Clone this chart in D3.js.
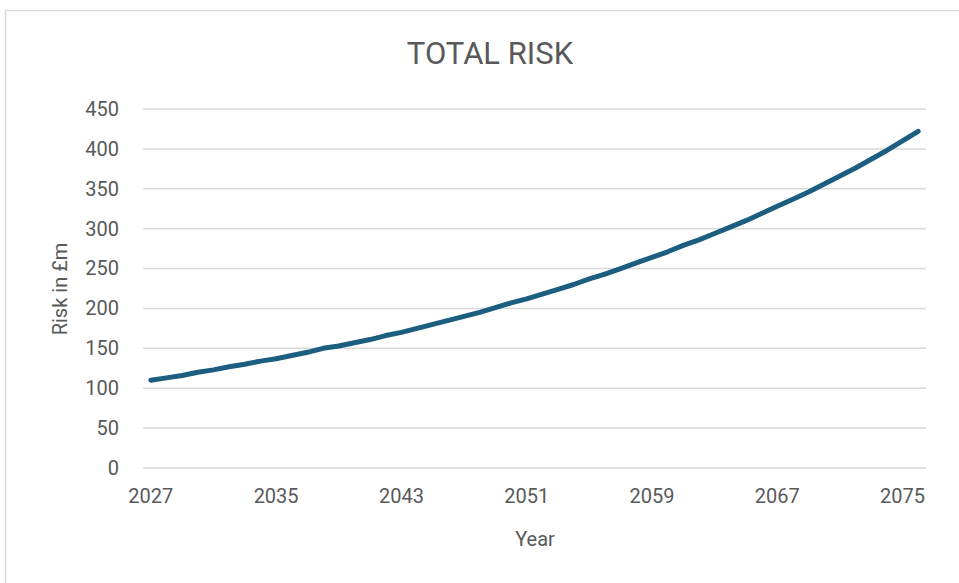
<!DOCTYPE html>
<html>
<head>
<meta charset="utf-8">
<script src="https://cdn.jsdelivr.net/npm/d3@7"></script>
<style>
  html, body { margin: 0; padding: 0; background: #fff; }
  svg { display: block; }
  text { font-family: Roboto, "Liberation Sans", Arial, sans-serif; fill: #595959; }
</style>
</head>
<body>
<svg id="chart" width="959" height="583"></svg>
<script>
// Total risk per year, in £m
const years = d3.range(2027, 2077);
const risk = [
  110, 113, 116, 120, 123, 127, 130, 134, 137, 141,
  145, 150, 153, 157, 161, 166, 170, 175, 180, 185,
  190, 195, 201, 207, 212, 218, 224, 230, 237, 243,
  250, 257, 264, 271, 279, 286, 294, 302, 310, 319,
  328, 337, 346, 356, 366, 376, 387, 398, 410, 422
];
const yTicks = [0, 50, 100, 150, 200, 250, 300, 350, 400, 450];
const xTickYears = [2027, 2035, 2043, 2051, 2059, 2067, 2075];

const svg = d3.select("#chart");
const plot = { left: 143, right: 926, top: 109, bottom: 468 };

// Chart frame
svg.append("rect")
  .attr("x", 5.5).attr("y", 10.5)
  .attr("width", 1000).attr("height", 700)
  .attr("fill", "#fff")
  .attr("stroke", "#d9d9d9")
  .attr("stroke-width", 1.5);

// Category axis: each year sits at the centre of its band
const x = d3.scaleBand()
  .domain(years)
  .range([plot.left, plot.right])
  .paddingInner(0).paddingOuter(0);
const xc = d => x(d) + x.bandwidth() / 2;

const y = d3.scaleLinear()
  .domain([0, 450])
  .range([plot.bottom, plot.top]);

// Horizontal gridlines
svg.append("g")
  .selectAll("line")
  .data(yTicks)
  .join("line")
  .attr("x1", plot.left).attr("x2", plot.right)
  .attr("y1", d => y(d)).attr("y2", d => y(d))
  .attr("stroke", "#d9d9d9")
  .attr("stroke-width", 1.5);

// Y axis labels
const yAxis = d3.axisLeft(y).tickValues(yTicks).tickSize(0).tickPadding(0);
svg.append("g")
  .attr("transform", `translate(119,0)`)
  .call(yAxis)
  .call(g => g.select(".domain").remove())
  .selectAll("text")
  .attr("font-size", 20)
  .attr("font-family", "Roboto, 'Liberation Sans', Arial, sans-serif")
  .attr("fill", "#595959");

// X axis labels
const xAxis = d3.axisBottom(x).tickValues(xTickYears).tickSize(0).tickPadding(0);
svg.append("g")
  .attr("transform", `translate(0,${plot.bottom + 21})`)
  .call(xAxis)
  .call(g => g.select(".domain").remove())
  .selectAll("text")
  .attr("font-size", 20)
  .attr("font-family", "Roboto, 'Liberation Sans', Arial, sans-serif")
  .attr("fill", "#595959");

// Risk line
const line = d3.line()
  .x((d, i) => xc(years[i]))
  .y(d => y(d));

svg.append("path")
  .datum(risk)
  .attr("d", line)
  .attr("fill", "none")
  .attr("stroke", "#1b5e80")
  .attr("stroke-width", 5)
  .attr("stroke-linecap", "round")
  .attr("stroke-linejoin", "round");

// Title
svg.append("text")
  .attr("x", 490).attr("y", 64)
  .attr("text-anchor", "middle")
  .attr("font-size", 31)
  .text("TOTAL RISK");

// Axis titles
svg.append("text")
  .attr("x", 535).attr("y", 546)
  .attr("text-anchor", "middle")
  .attr("font-size", 20)
  .text("Year");

svg.append("text")
  .attr("transform", "translate(67,289) rotate(-90)")
  .attr("text-anchor", "middle")
  .attr("font-size", 20)
  .text("Risk in £m");
</script>
</body>
</html>
